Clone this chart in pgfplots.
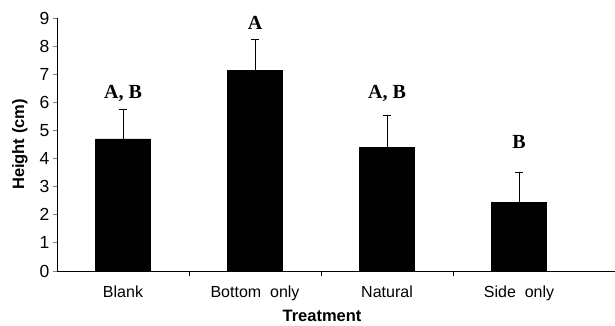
\documentclass[border=0pt]{standalone}
\usepackage{fontspec}
\setmainfont{Liberation Sans}
\newfontfamily\serifb{Liberation Serif}
\usepackage{pgfplots}
\pgfplotsset{compat=1.18}
\begin{document}
\begin{tikzpicture}
\path[use as bounding box] (-57pt,-54pt) rectangle (558pt,271pt);
\begin{axis}[
  at={(0,0)}, anchor=south west,
  scale only axis, width=558pt, height=253pt,
  xmin=-0.5, xmax=3.727, ymin=0, ymax=9,
  axis x line*=bottom, axis y line*=left,
  axis line style={-, line width=0.8pt},
  ytick={0,...,9},
  xtick={0,1,2,3},
  xticklabels={Blank, Bottom\ \ only, Natural, Side\ \ only},
  minor xtick={0.5,1.5,2.5},
  major x tick style={draw=none},
  minor x tick style={draw=black, line width=0.8pt},
  y tick style={line width=0.8pt},
  tick align=outside, major tick length=4pt, minor tick length=5pt,
  xticklabel style={font=\fontsize{16}{18}\selectfont, yshift=-7pt},
  yticklabel style={font=\fontsize{17.5}{19}\selectfont, xshift=0pt},
  /pgf/number format/assume math mode=true,
  xlabel={\textbf{Treatment}},
  xlabel style={font=\fontsize{16.5}{18}\selectfont, at={(axis description cs:0.475,0)}, anchor=center, yshift=-45pt},
  clip=false,
]
\addplot[ybar, bar width=55pt, fill=black, draw=black,
  error bars/.cd, y dir=plus, y explicit,
  error mark options={rotate=90, mark size=4pt, line width=0.8pt},
  error bar style={line width=0.8pt}]
  coordinates {(0,4.7) +- (0,1.05) (1,7.15) +- (0,1.1) (2,4.4) +- (0,1.15) (3,2.45) +- (0,1.05)};
\node[rotate=90, anchor=center, font=\fontsize{16.5}{18}\selectfont\bfseries] at (axis description cs:-0.0663,0.5) {Height (cm)};
\begin{scope}[every node/.style={font=\serifb\bfseries\fontsize{20}{22}\selectfont, anchor=center}]
\node at (axis cs:0,6.33) {A, B};
\node at (axis cs:1,8.83) {A};
\node at (axis cs:2,6.33) {A, B};
\node at (axis cs:3,4.6) {B};
\end{scope}
\end{axis}
\end{tikzpicture}
\end{document}
